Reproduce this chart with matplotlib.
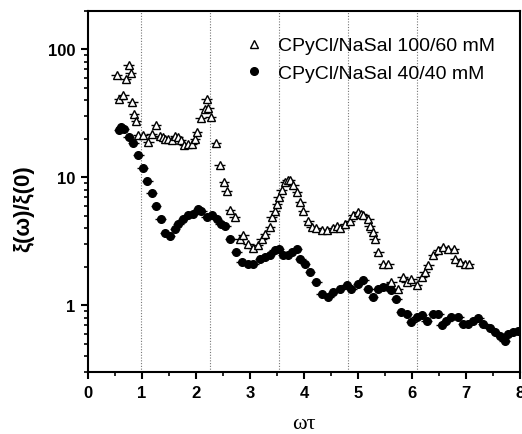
import numpy as np
import matplotlib
matplotlib.use("Agg")
import matplotlib.pyplot as plt
from matplotlib.lines import Line2D
from matplotlib.ticker import LogLocator, NullFormatter, FixedLocator, MultipleLocator

# CPyCl/NaSal 100/60 mM
wt_100 = [0.53, 0.58, 0.65, 0.70, 0.75, 0.79, 0.82, 0.85, 0.89, 0.93, 1.02, 1.12,
          1.18, 1.26, 1.33, 1.38, 1.43, 1.49, 1.55, 1.61, 1.66, 1.72, 1.78, 1.85,
          1.92, 1.98, 2.02, 2.09, 2.16, 2.20, 2.23, 2.27, 2.37, 2.44, 2.52, 2.57,
          2.63, 2.72, 2.81, 2.88, 2.97, 3.06, 3.15, 3.22, 3.28, 3.37, 3.40, 3.46,
          3.50, 3.53, 3.59, 3.65, 3.70, 3.74, 3.80, 3.87, 3.93, 3.99, 4.08, 4.14,
          4.23, 4.33, 4.42, 4.54, 4.61, 4.67, 4.76, 4.85, 4.91, 5.01, 5.06, 5.10,
          5.19, 5.22, 5.27, 5.31, 5.38, 5.47, 5.56, 5.62, 5.74, 5.83, 5.90, 5.99,
          6.09, 6.18, 6.24, 6.30, 6.39, 6.49, 6.58, 6.67, 6.77, 6.80, 6.89, 6.98,
          7.05]
xi_100 = [63, 41, 44, 59, 76, 65, 39, 31.5, 27.6, 21.3, 21.3, 18.9,
          21.9, 25.8, 21.0, 20.7, 20.1, 20.1, 19.5, 21.0, 20.7, 19.5, 17.8, 18.3,
          18.3, 20.1, 22.6, 29.1, 34.0, 40.7, 34.9, 29.6, 18.5, 12.5, 9.2, 7.8,
          5.6, 4.9, 3.3, 3.57, 3.03, 2.81, 2.94, 3.3, 3.63, 4.1, 4.9, 5.5,
          6.2, 7.0, 7.9, 9.2, 9.6, 9.5, 8.7, 7.7, 6.4, 5.5, 4.6, 4.1,
          4.0, 3.85, 3.85, 4.0, 4.2, 4.0, 4.35, 4.6, 5.05, 5.37, 5.2, 5.05,
          4.76, 4.2, 3.74, 3.3, 2.61, 2.12, 2.12, 1.52, 1.35, 1.67, 1.52, 1.62,
          1.43, 1.67, 1.82, 2.05, 2.46, 2.69, 2.86, 2.77, 2.77, 2.32, 2.18, 2.12,
          2.12]

# CPyCl/NaSal 40/40 mM
wt_40 = [0.58, 0.62, 0.66, 0.75, 0.84, 0.93, 1.01, 1.10, 1.18, 1.26, 1.35, 1.43,
         1.51, 1.61, 1.67, 1.76, 1.86, 1.95, 2.04, 2.10, 2.20, 2.29, 2.38, 2.46,
         2.54, 2.63, 2.75, 2.85, 2.97, 3.06, 3.19, 3.28, 3.37, 3.46, 3.53, 3.62,
         3.71, 3.77, 3.87, 3.93, 4.02, 4.11, 4.23, 4.33, 4.45, 4.54, 4.67, 4.79,
         4.88, 5.01, 5.10, 5.19, 5.28, 5.38, 5.47, 5.56, 5.62, 5.71, 5.80, 5.90,
         5.99, 6.09, 6.18, 6.27, 6.39, 6.49, 6.55, 6.64, 6.73, 6.86, 6.95, 7.04,
         7.14, 7.23, 7.32, 7.44, 7.54, 7.63, 7.72, 7.78, 7.88, 7.97]
xi_40 = [23.5, 24.8, 23.9, 20.7, 18.7, 15.0, 11.8, 9.4, 7.6, 6.0, 4.76, 3.68,
         3.48, 3.97, 4.35, 4.76, 5.05, 5.2, 5.62, 5.5, 4.9, 5.05, 4.7, 4.35,
         4.17, 3.3, 2.61, 2.18, 2.12, 2.12, 2.32, 2.39, 2.46, 2.69, 2.77, 2.46,
         2.46, 2.61, 2.77, 2.32, 2.12, 1.82, 1.52, 1.23, 1.16, 1.27, 1.35, 1.43,
         1.35, 1.48, 1.57, 1.35, 1.16, 1.35, 1.39, 1.39, 1.31, 1.13, 0.89, 0.86,
         0.74, 0.81, 0.835, 0.76, 0.86, 0.86, 0.70, 0.76, 0.81, 0.81, 0.72, 0.72,
         0.76, 0.79, 0.72, 0.66, 0.62, 0.58, 0.53, 0.60, 0.62, 0.63]

labels = ['CPyCl/NaSal 100/60 mM', 'CPyCl/NaSal 40/40 mM']

# positions of the dotted guide lines
guide_wt = [0.98, 2.26, 3.54, 4.82, 6.10]
wt_err = 0.1

plt.rcParams['font.family'] = ['Liberation Sans', 'DejaVu Sans']

fig = plt.figure(figsize=(5.22, 4.35), dpi=100)
ax = fig.add_axes([0.1686, 0.1418, 0.8274, 0.8312])

for g in guide_wt:
    ax.axvline(g, color='#777777', lw=0.8, ls=(0, (1, 1.5)), zorder=1)

tri_style = dict(marker='^', ms=5.5, mfc='white', mec='black', mew=1.0)
dot_style = dict(marker='o', ms=5.5, mfc='black', mec='black')

ax.errorbar(wt_100, xi_100, xerr=wt_err, ls='none', ecolor='black',
            elinewidth=1.0, capsize=0, zorder=3, **tri_style)
ax.errorbar(wt_40, xi_40, xerr=wt_err, ls='none', ecolor='black',
            elinewidth=1.0, capsize=0, zorder=2, **dot_style)

ax.set_yscale('log')
ax.set_xlim(0, 8)
ax.set_ylim(0.3, 200)

ax.xaxis.set_major_locator(MultipleLocator(1))
ax.xaxis.set_minor_locator(MultipleLocator(0.5))
ax.yaxis.set_major_locator(FixedLocator([1, 10, 100]))
ax.yaxis.set_minor_locator(LogLocator(base=10, subs=np.arange(2, 10)))
ax.yaxis.set_minor_formatter(NullFormatter())
ax.set_yticklabels(['1', '10', '100'])

for s in ax.spines.values():
    s.set_linewidth(1.5)
ax.tick_params(axis='both', which='major', direction='out', length=5, width=1.5,
               labelsize=12, pad=4)
ax.tick_params(axis='both', which='minor', direction='out', length=3, width=1.2)
for lab in ax.get_xticklabels() + ax.get_yticklabels():
    lab.set_fontweight('bold')

ax.set_xlabel('ωτ', family=['Liberation Serif', 'DejaVu Serif'], fontsize=16, labelpad=10)
ax.set_ylabel('ξ(ω)/ξ(0)', fontsize=16, fontweight='bold')
ax.yaxis.set_label_coords(-0.125, 0.455)

handles = [Line2D([], [], ls='none', **tri_style), Line2D([], [], ls='none', **dot_style)]
ax.legend(handles, labels, loc='upper left', bbox_to_anchor=(0.355, 0.928), frameon=False,
          fontsize=14, handletextpad=0.6, borderaxespad=0.0,
          labelspacing=0.52, handlelength=1.3, borderpad=0.0)

fig.savefig('out.png', dpi=100)
